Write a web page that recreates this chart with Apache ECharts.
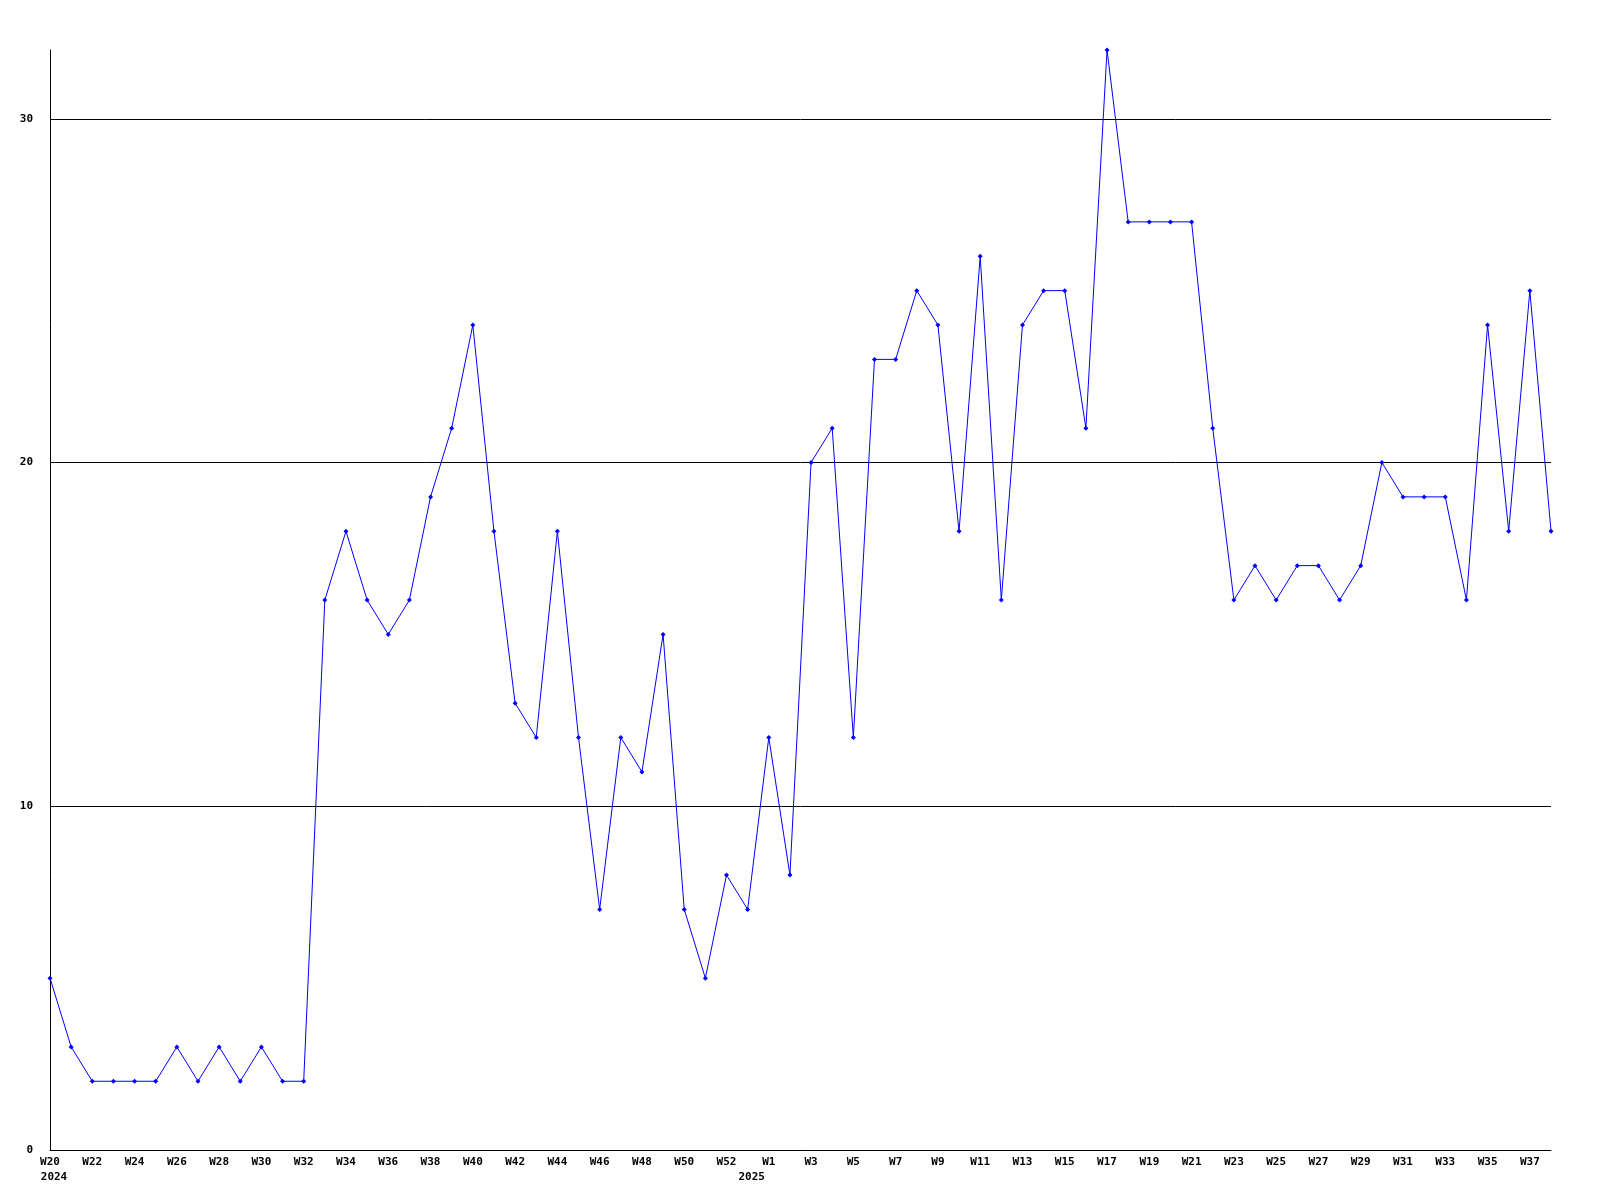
<!DOCTYPE html>
<html>
<head>
<meta charset="utf-8">
<script src="https://cdn.jsdelivr.net/npm/echarts@6/dist/echarts.min.js"></script>
<style>html,body{margin:0;padding:0;background:#fff}#c{width:1600px;height:1200px}</style>
</head>
<body>
<div id="c"></div>
<script>
const weeks = ["W20","W21","W22","W23","W24","W25","W26","W27","W28","W29","W30","W31","W32","W33","W34","W35","W36","W37","W38","W39","W40","W41","W42","W43","W44","W45","W46","W47","W48","W49","W50","W51","W52","W53",
"W1","W2","W3","W4","W5","W6","W7","W8","W9","W10","W11","W12","W13","W14","W15","W16","W17","W18","W19","W20","W21","W22","W23","W24","W25","W26","W27","W28","W29","W30","W31","W32","W33","W34","W35","W36","W37","W38"];
const yearLabels = {0: "2024", 33: "2025"};
const values = [5,3,2,2,2,2,3,2,3,2,3,2,2,16,18,16,15,16,19,21,24,18,13,12,18,12,7,12,11,15,7,5,8,7,
12,8,20,21,12,23,23,25,24,18,26,16,24,25,25,21,32,27,27,27,27,21,16,17,16,17,17,16,17,20,19,19,19,16,24,18,25,18];
const yTicks = [0,10,20,30];

const cats = weeks.map((w,i)=> i + "|" + w);
const font = {fontFamily: "DejaVu Sans Mono", fontWeight: "bold", fontSize: 11, color: "#000"};
const chart = echarts.init(document.getElementById('c'));
chart.setOption({
  animation: false,
  backgroundColor: "#fff",
  grid: {left: 50, right: 49, top: 50, bottom: 50, containLabel: false},
  xAxis: {
    type: "category", data: cats, boundaryGap: false,
    axisLine: {lineStyle: {color: "#000", width: 1}},
    axisTick: {show: false},
    axisLabel: Object.assign({}, font, {
      interval: function(i){ return i % 2 === 0 || yearLabels[i] !== undefined; },
      margin: 5, lineHeight: 15,
      formatter: function(v){
        const p=v.split("|"); const i=+p[0];
        const wk = (i % 2 === 0) ? p[1] : "";
        return yearLabels[i] ? wk + "\n{y|" + yearLabels[i] + "}" : wk;
      },
      rich: {y: Object.assign({}, font, {lineHeight: 15, padding: [0,0,0,8]})}
    }),
    splitLine: {show: false}
  },
  yAxis: {
    type: "value", min: 0, max: 32, interval: 10,
    axisLine: {show: true, lineStyle: {color: "#000", width: 1}},
    axisTick: {show: false},
    axisLabel: Object.assign({}, font, {margin: 17, formatter: v => yTicks.includes(v) ? String(v) : ""}),
    splitLine: {show: true, showMaxLine: false, lineStyle: {color: "#000", width: 1}}
  },
  series: [{
    type: "line", data: values,
    lineStyle: {color: "#0000ff", width: 1},
    itemStyle: {color: "#0000ff"},
    symbol: "diamond", symbolSize: 5, showSymbol: true
  }]
});
</script>
</body>
</html>
